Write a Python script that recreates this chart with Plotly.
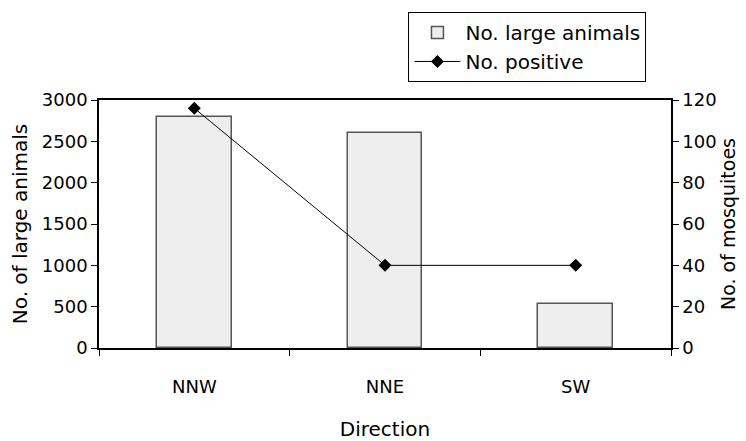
import plotly.graph_objects as go

directions = ["NNW", "NNE", "SW"]
large_animals = [2800, 2600, 530]
positive = [116, 40, 40]

FONT = "DejaVu Sans"

fig = go.Figure()
fig.add_trace(go.Bar(
    x=directions, y=large_animals, name="No. large animals",
    marker=dict(color="#eeeeee", line=dict(color="#555555", width=1.5)),
    width=0.39, yaxis="y",
))
fig.add_trace(go.Scatter(
    x=directions, y=positive, name="No. positive", mode="lines+markers",
    line=dict(color="#000000", width=1),
    marker=dict(symbol="diamond", size=10, color="#000000"),
    yaxis="y2",
))

fig.update_layout(
    width=746, height=441,
    margin=dict(l=98.5, r=75, t=100, b=93, autoexpand=False),
    plot_bgcolor="white", paper_bgcolor="white",
    font=dict(family=FONT, size=18, color="#000000"),
    bargap=0,
    showlegend=True,
    legend=dict(
        x=0.541, y=1.355, xanchor="left", yanchor="top",
        bordercolor="#000000", borderwidth=1, bgcolor="white",
        font=dict(family=FONT, size=20),
        tracegroupgap=0, itemwidth=46,
    ),
    xaxis=dict(
        type="category", range=[-0.5, 2.5],
        showline=True, linecolor="#000000", linewidth=1.5, mirror=True,
        ticks="outside", tickson="boundaries", ticklen=6, tickcolor="#000000",
        ticklabelstandoff=22,
        showgrid=False, zeroline=False,
        title=dict(text="Direction", font=dict(size=20), standoff=30),
    ),
    yaxis=dict(
        range=[0, 3000], dtick=500,
        showline=True, linecolor="#000000", linewidth=1.5,
        ticks="outside", ticklen=6, tickcolor="#000000",
        showgrid=False, zeroline=False,
        title=dict(text="No. of large animals", font=dict(size=20), standoff=9),
    ),
    yaxis2=dict(
        range=[0, 120], dtick=20, overlaying="y", side="right",
        showline=True, linecolor="#000000", linewidth=1.5,
        ticks="outside", ticklen=6, tickcolor="#000000",
        showgrid=False, zeroline=False,
        title=dict(text="No. of mosquitoes", font=dict(size=19), standoff=5),
    ),
)

fig.write_html("out.html", config={"displayModeBar": False},
               post_script="document.body.style.margin='0';document.body.style.overflow='hidden';")
